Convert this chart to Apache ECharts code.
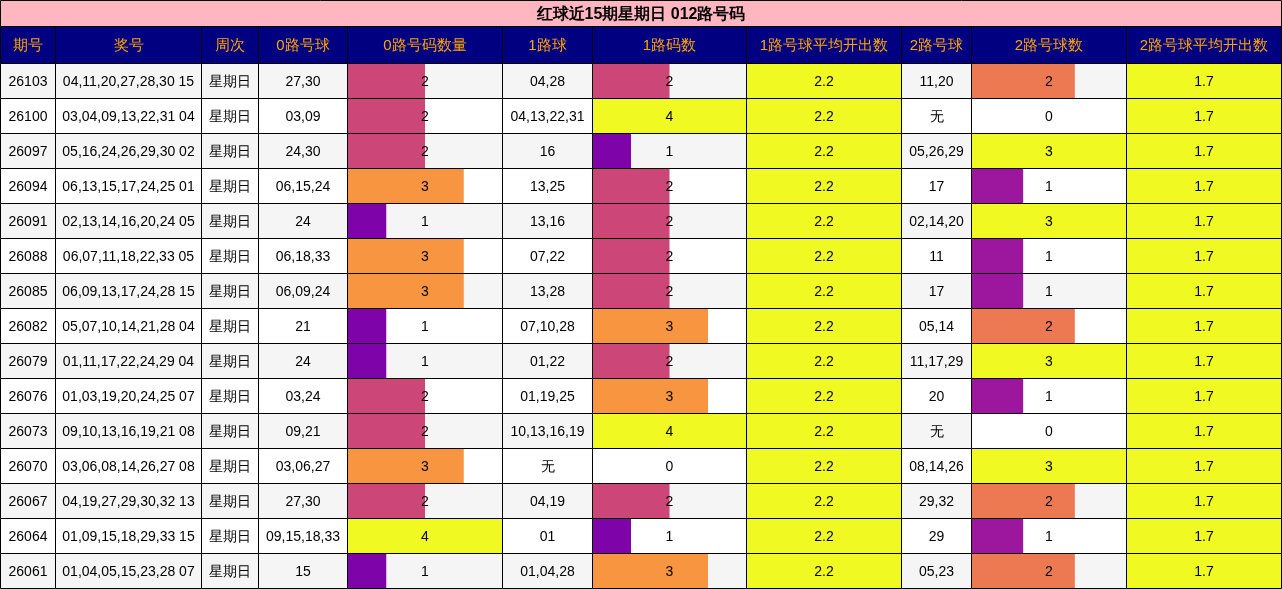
<!DOCTYPE html>
<html><head><meta charset="utf-8">
<script src="https://cdn.jsdelivr.net/npm/echarts@6/dist/echarts.min.js"></script>
<style>html,body{margin:0;padding:0;background:#fff}#c{width:1282px;height:589px}</style>
</head><body><div id="c"></div>
<script>
var title = '红球近15期星期日 012路号码';
var headers = ['期号','奖号','周次','0路号球','0路号码数量','1路球','1路码数','1路号球平均开出数','2路号球','2路号球数','2路号球平均开出数'];
var issues = ['26103','26100','26097','26094','26091','26088','26085','26082','26079','26076','26073','26070','26067','26064','26061'];
var draws = ['04,11,20,27,28,30 15','03,04,09,13,22,31 04','05,16,24,26,29,30 02','06,13,15,17,24,25 01','02,13,14,16,20,24 05','06,07,11,18,22,33 05','06,09,13,17,24,28 15','05,07,10,14,21,28 04','01,11,17,22,24,29 04','01,03,19,20,24,25 07','09,10,13,16,19,21 08','03,06,08,14,26,27 08','04,19,27,29,30,32 13','01,09,15,18,29,33 15','01,04,05,15,23,28 07'];
var weekday = '星期日';
var balls0 = ['27,30','03,09','24,30','06,15,24','24','06,18,33','06,09,24','21','24','03,24','09,21','03,06,27','27,30','09,15,18,33','15'];
var count0 = [2,2,2,3,1,3,3,1,1,2,2,3,2,4,1];
var balls1 = ['04,28','04,13,22,31','16','13,25','13,16','07,22','13,28','07,10,28','01,22','01,19,25','10,13,16,19','无','04,19','01','01,04,28'];
var count1 = [2,4,1,2,2,2,2,3,2,3,4,0,2,1,3];
var avg1 = 2.2;
var balls2 = ['11,20','无','05,26,29','17','02,14,20','11','17','05,14','11,17,29','20','无','08,14,26','29,32','29','05,23'];
var count2 = [2,0,3,1,3,1,1,2,3,1,0,3,2,1,2];
var avg2 = 1.7;

var colEdges = [0,55,201,258,347,502,592,746,901,971,1126,1281];
var titleH = 26, headH = 37, rowH = 35;
var plasma4 = {1:'#7e03a8',2:'#cc4778',3:'#f89540',4:'#f0f921'};
var plasma3 = {1:'#9c179e',2:'#ed7953',3:'#f0f921'};
var yellow = '#f0f921';

var cells = [], meta = [];
function add(x0,x1,y0,y1,m){cells.push([x0,x1,y0,y1]);meta.push(m);}
add(0,1281,0,titleH,{text:title,bg:'#ffb6c1',color:'#000',bold:true,size:16});
headers.forEach(function(h,i){add(colEdges[i],colEdges[i+1],titleH,titleH+headH,{text:h,bg:'#000080',color:'#ffa500',size:15});});
issues.forEach(function(iss,r){
  var y0 = titleH+headH+r*rowH, y1=y0+rowH;
  var bg = r%2===0 ? '#f5f5f5' : '#ffffff';
  var vals = [iss,draws[r],weekday,balls0[r],count0[r],balls1[r],count1[r],avg1.toFixed(1),balls2[r],count2[r],avg2.toFixed(1)];
  vals.forEach(function(v,c){
    var m = {text:String(v),bg:bg,color:'#000',size:14,frac:0,fill:null};
    if(c===4||c===6){m.frac=v/4;m.fill=plasma4[v]||null;if(v===0)m.bg='#fff';}
    if(c===9){m.frac=v/3;m.fill=plasma3[v]||null;if(v===0)m.bg='#fff';}
    if(c===7||c===10){m.bg=yellow;}
    add(colEdges[c],colEdges[c+1],y0,y1,m);
  });
});

var chart = echarts.init(document.getElementById('c'));
chart.setOption({
  animation:false,
  grid:{left:0,right:0,top:0,bottom:0},
  xAxis:{type:'value',min:0,max:1282,show:false},
  yAxis:{type:'value',min:0,max:589,inverse:true,show:false},
  series:[{
    type:'custom',
    data:cells,
    renderItem:function(params,api){
      var m = meta[params.dataIndex];
      var p0 = api.coord([api.value(0),api.value(2)]);
      var p1 = api.coord([api.value(1),api.value(3)]);
      var x=Math.round(p0[0])+0.5,y=Math.round(p0[1])+0.5,w=Math.round(p1[0]-p0[0]),h=Math.round(p1[1]-p0[1]);
      var ch=[{type:'rect',shape:{x:x,y:y,width:w,height:h},style:{fill:m.bg}}];
      if(m.fill&&m.frac>0){ch.push({type:'rect',shape:{x:x,y:y,width:w*m.frac,height:h},style:{fill:m.fill}});}
      ch.push({type:'rect',shape:{x:x,y:y,width:w,height:h},style:{fill:null,stroke:'#000',lineWidth:1}});
      ch.push({type:'text',style:{x:x+w/2,y:y+h/2+1,text:m.text,fill:m.color,align:'center',verticalAlign:'middle',font:(m.bold?'bold ':'')+m.size+'px "Liberation Sans", Arial, sans-serif'}});
      return {type:'group',children:ch};
    }
  }]
});
</script></body></html>
